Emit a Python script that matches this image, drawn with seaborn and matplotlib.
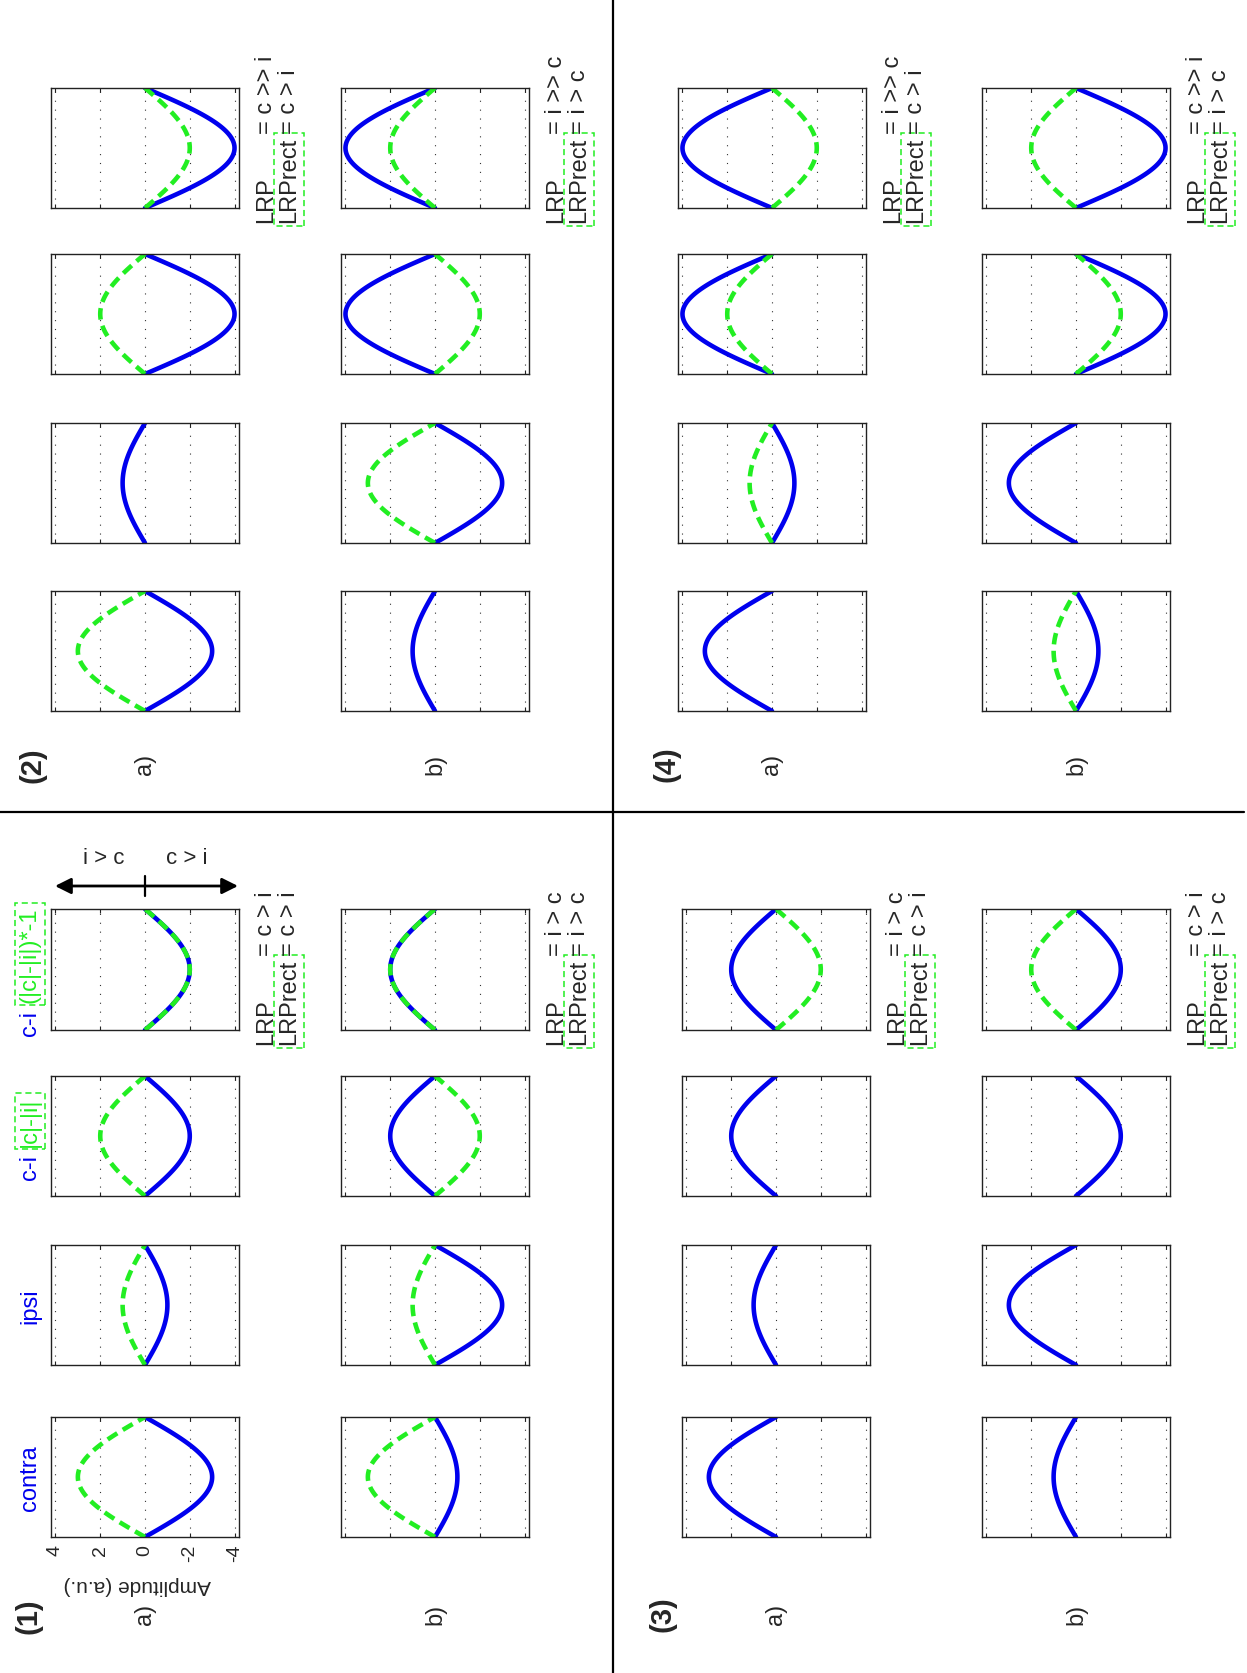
import numpy as np
import pandas as pd
import matplotlib
matplotlib.use("Agg")
import matplotlib.pyplot as plt
import seaborn as sns

# ---------------------------------------------------------------------------
# Peak amplitudes (a.u.) of the schematic waveforms.
# Column order in every row: contra, ipsi, c-i, c-i with rectified overlay.
# "blue" = raw signal, "green" = rectified version (None = not drawn).
# ---------------------------------------------------------------------------
columns = ["contra", "ipsi", "c-i", "c-i*-1"]

p1a_blue = [-3, -1, -2, -2]
p1a_green = [3, 1, 2, -2]
p1b_blue = [-1, -3, 2, 2]
p1b_green = [3, 1, -2, 2]

p2a_blue = [-3, 1, -4, -4]
p2a_green = [3, None, 2, -2]
p2b_blue = [1, -3, 4, 4]
p2b_green = [None, 3, -2, 2]

p3a_blue = [3, 1, 2, 2]
p3a_green = [None, None, None, -2]
p3b_blue = [1, 3, -2, -2]
p3b_green = [None, None, None, 2]

p4a_blue = [3, -1, 4, 4]
p4a_green = [None, 1, 2, -2]
p4b_blue = [-1, 3, -4, -4]
p4b_green = [1, None, -2, 2]

# LRP statements printed beside each row
lrp_text = {
    (1, "a"): ("= c > i", "= c > i"),
    (1, "b"): ("= i > c", "= i > c"),
    (2, "a"): ("= c >> i", "= c > i"),
    (2, "b"): ("= i >> c", "= i > c"),
    (3, "a"): ("= i > c", "= c > i"),
    (3, "b"): ("= c > i", "= i > c"),
    (4, "a"): ("= i >> c", "= c > i"),
    (4, "b"): ("= c >> i", "= i > c"),
}

amp_ticks = [-4, -2, 0, 2, 4]
amp_ticklabels = ["-4", "-2", "0", "2", "4"]

# normalised time base and the half-wave template of one component
t = np.linspace(0.0, 1.0, 121)
wave = np.sin(np.pi * t)

data = {
    (1, "a"): (p1a_blue, p1a_green), (1, "b"): (p1b_blue, p1b_green),
    (2, "a"): (p2a_blue, p2a_green), (2, "b"): (p2b_blue, p2b_green),
    (3, "a"): (p3a_blue, p3a_green), (3, "b"): (p3b_blue, p3b_green),
    (4, "a"): (p4a_blue, p4a_green), (4, "b"): (p4b_blue, p4b_green),
}

# ---------------------------------------------------------------------------
# Styling
# ---------------------------------------------------------------------------
sns.set_style("white")
plt.rcParams["font.family"] = ["Liberation Sans", "DejaVu Sans"]
plt.rcParams["axes.unicode_minus"] = False

BLUE = "#0000ee"
GREEN = "#22ee22"
W, H = 1247, 1674
FS = 17

fig = plt.figure(figsize=(W / 100, H / 100), dpi=100)
fig.patch.set_facecolor("white")

# horizontal extent (px) of each row of boxes, vertical extent of each column
row_x = {
    (1, "a"): (51, 239), (1, "b"): (341, 529),
    (2, "a"): (51, 239), (2, "b"): (341, 529),
    (3, "a"): (682, 870), (3, "b"): (982, 1170),
    (4, "a"): (678, 866), (4, "b"): (982, 1170),
}
col_y_lower = [(1418, 1538), (1246, 1366), (1077, 1197), (910, 1031)]
col_y_upper = [(592, 712), (424, 544), (255, 375), (89, 209)]


def col_y(panel):
    return col_y_lower if panel in (1, 3) else col_y_upper


def add_box(x0, x1, y0, y1):
    return fig.add_axes([x0 / W, 1 - y1 / H, (x1 - x0) / W, (y1 - y0) / H])


first_ax = None
for (panel, row), (blue, green) in data.items():
    x0, x1 = row_x[(panel, row)]
    for ci in range(4):
        y0, y1 = col_y(panel)[ci]
        ax = add_box(x0, x1, y0, y1)
        df = pd.DataFrame({"amp": blue[ci] * wave, "t": t})
        sns.lineplot(data=df, x="amp", y="t", orient="y", estimator=None,
                     ax=ax, color=BLUE, linewidth=3.3)
        if green[ci] is not None:
            dg = pd.DataFrame({"amp": green[ci] * wave, "t": t})
            sns.lineplot(data=dg, x="amp", y="t", orient="y", estimator=None,
                         ax=ax, color=GREEN, linewidth=3.3,
                         linestyle=(0, (2.5, 1.4)))
        ax.set_xlim(4.2, -4.2)
        ax.set_ylim(0, 1)
        ax.set_xlabel("")
        ax.set_ylabel("")
        ax.set_xticks(amp_ticks)
        ax.set_xticklabels(amp_ticklabels)
        ax.set_yticks([])
        ax.grid(False)
        for xv in amp_ticks:
            ax.axvline(xv, color="#333333", lw=0.8, ls=(0, (1, 7)), zorder=0)
        ax.tick_params(axis="x", direction="in", length=3, width=0.8,
                       top=True, bottom=True, labelbottom=False,
                       labeltop=False, color="#222222")
        for s in ax.spines.values():
            s.set_linewidth(1.0)
            s.set_color("#222222")
        if panel == 1 and row == "a" and ci == 0:
            first_ax = ax

# amplitude tick labels only on the first box
first_ax.tick_params(axis="x", labelbottom=True, labelsize=14,
                     labelrotation=90, pad=5)

# ---------------------------------------------------------------------------
# Overlay in pixel coordinates for the annotations and separators
# ---------------------------------------------------------------------------
ov = fig.add_axes([0, 0, 1, 1], zorder=10)
ov.set_xlim(0, W)
ov.set_ylim(H, 0)
ov.axis("off")

# panel separators
ov.plot([613, 613], [0, H], color="k", lw=1.6, clip_on=False)
ov.plot([0, W - 3], [813, 813], color="k", lw=1.6, clip_on=False)

ov.text(137, 1586, "Amplitude (a.u.)", rotation=180, fontsize=15,
        ha="center", va="center")

# panel numbers and row letters
for lab, (px, py) in {"(1)": (28, 1616), "(2)": (32, 765),
                      "(3)": (662, 1614), "(4)": (667, 764)}.items():
    ov.text(px, py, lab, rotation=90, fontsize=21, fontweight="bold",
            ha="center", va="center")
for (panel, row), (x0, x1) in row_x.items():
    py = 1614 if panel in (1, 3) else 764
    ov.text((x0 + x1) / 2, py, row + ")", rotation=90, fontsize=FS,
            ha="center", va="center")

# column headers of panel 1
ov.text(30, 1478, "contra", rotation=90, fontsize=FS, color=BLUE,
        ha="center", va="center")
ov.text(30, 1306, "ipsi", rotation=90, fontsize=FS, color=BLUE,
        ha="center", va="center")
box_style = dict(boxstyle="square,pad=0.15", fc="none", ec=GREEN,
                 ls=(0, (4, 2.5)), lw=1.1)
for ystart, gtxt in [(1180, "|c|-|i|"), (1036, "(|c|-|i|)*-1")]:
    tb = ov.text(30, ystart, "c-i", rotation=90, fontsize=FS, color=BLUE,
                 ha="center", va="bottom")
    ov.annotate(gtxt, xy=(0.5, 1.0), xycoords=tb, xytext=(0, 6),
                textcoords="offset points", rotation=90, fontsize=FS,
                color=GREEN, ha="center", va="bottom", bbox=box_style)

# direction arrow for the difference wave
ov.annotate("", xy=(55, 887), xytext=(238, 887),
            arrowprops=dict(arrowstyle="<|-|>", color="k", lw=2.0,
                            mutation_scale=24, shrinkA=0, shrinkB=0))
ov.plot([145, 145], [877, 897], color="k", lw=1.6)
ov.text(104, 858, "i > c", fontsize=16, ha="center", va="center")
ov.text(187, 858, "c > i", fontsize=16, ha="center", va="center")

# LRP statements
for (panel, row), (l1, l2) in lrp_text.items():
    x0, x1 = row_x[(panel, row)]
    ystart = col_y(panel)[3][1] + 14
    ov.text(x1 + 27, ystart, "LRP", rotation=90, fontsize=FS,
            ha="center", va="bottom")
    t2 = ov.text(x1 + 50, ystart, "LRPrect", rotation=90, fontsize=FS,
                 ha="center", va="bottom", bbox=box_style)
    ov.annotate(l2, xy=(0.5, 1.0), xycoords=t2, xytext=(0, 3),
                textcoords="offset points", rotation=90, fontsize=FS,
                ha="center", va="bottom")
    ov.annotate(l1, xy=(0.5, 1.0), xycoords=t2, xytext=(-16.5, 3),
                textcoords="offset points", rotation=90, fontsize=FS,
                ha="center", va="bottom")

fig.savefig("out.png", dpi=100, facecolor="white")
